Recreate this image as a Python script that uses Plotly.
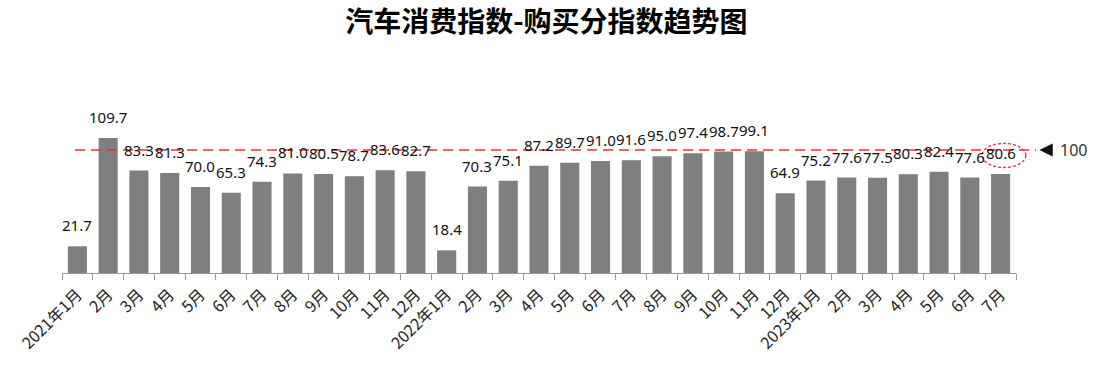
import plotly.graph_objects as go

months = ["2021年1月", "2月", "3月", "4月", "5月", "6月", "7月", "8月", "9月", "10月", "11月", "12月",
          "2022年1月", "2月", "3月", "4月", "5月", "6月", "7月", "8月", "9月", "10月", "11月", "12月",
          "2023年1月", "2月", "3月", "4月", "5月", "6月", "7月"]
values = [21.7, 109.7, 83.3, 81.3, 70.0, 65.3, 74.3, 81.0, 80.5, 78.7, 83.6, 82.7,
          18.4, 70.3, 75.1, 87.2, 89.7, 91.0, 91.6, 95.0, 97.4, 98.7, 99.1, 64.9,
          75.2, 77.6, 77.5, 80.3, 82.4, 77.6, 80.6]
ref_value = 100
ref_label = "100"
title = "汽车消费指数-购买分指数趋势图"

xs = list(range(len(values)))
n = len(values)
ymax = 173.2

font_num = "Noto Sans, Open Sans, Noto Sans CJK SC, sans-serif"
font_cjk = "Noto Sans CJK SC, Noto Sans, sans-serif"
red = "#d9363e"

fig = go.Figure()
fig.add_trace(go.Bar(
    x=xs, y=values,
    marker=dict(color="#7f7f7f", line=dict(width=0)),
    width=0.62,
    hoverinfo="x+y",
))

# data labels above bars
for i, v in zip(xs, values):
    fig.add_annotation(
        x=i, y=v, xref="x", yref="y", text=f"{v:.1f}",
        showarrow=False, yanchor="bottom", yshift=9,
        font=dict(family=font_num, size=15, color="#111111"),
    )

# reference line (paper coords so it can extend past the plot edge)
ry = ref_value / ymax
fig.add_shape(type="line", xref="paper", yref="paper",
              x0=0.0136, x1=1.021, y0=ry, y1=ry,
              line=dict(color=red, width=1.6, dash="10px,6px"), layer="above")

# triangle marker + label
fig.add_shape(type="path", xref="paper", yref="paper",
              path=f"M 1.0245 {ry} L 1.0385 {ry + 0.031} L 1.0385 {ry - 0.031} Z",
              fillcolor="#111111", line=dict(width=0), layer="above")
fig.add_annotation(x=1.044, y=ry, xref="paper", yref="paper", text=ref_label,
                   showarrow=False, xanchor="left", yanchor="middle",
                   font=dict(family=font_num, size=16, color="#333333"))

# dashed ellipse around the last label
last_i = xs[-1]
last_v = values[-1]
fig.add_shape(type="circle", xref="paper", yref="paper",
              x0=(last_i + 0.5 - 0.6) / n, x1=(last_i + 0.5 + 0.82) / n,
              y0=(last_v + 5.2) / ymax, y1=(last_v + 24.8) / ymax,
              line=dict(color=red, width=1.3, dash="3px,2px"), layer="above")

fig.update_layout(
    width=1094, height=368,
    margin=dict(l=62, r=78, t=60, b=95, autoexpand=False),
    paper_bgcolor="white", plot_bgcolor="white",
    showlegend=False,
    bargap=0.38,
    title=dict(text=f"<b>{title}</b>", x=0.4995, xanchor="center", y=0.94, yanchor="middle",
               font=dict(family=font_cjk, size=28, color="#000000")),
    xaxis=dict(
        automargin=False,
        tickmode="array", tickvals=xs, ticktext=months,
        range=[-0.5, n - 0.5],
        tickangle=-45, ticks="",
        ticklabelstandoff=5,
        showline=True, linecolor="#999999", linewidth=1.3,
        showgrid=False, zeroline=False,
        tickfont=dict(family=font_cjk, size=16, color="#222222"),
        minor=dict(tickvals=[i - 0.5 for i in range(n + 1)],
                   ticks="outside", ticklen=6, tickcolor="#999999", tickwidth=1.3),
    ),
    yaxis=dict(range=[0, ymax], visible=False, showgrid=False, zeroline=False),
)

fig.write_html("out.html", config={"displayModeBar": False},
               post_script="document.body.style.margin='0';")
